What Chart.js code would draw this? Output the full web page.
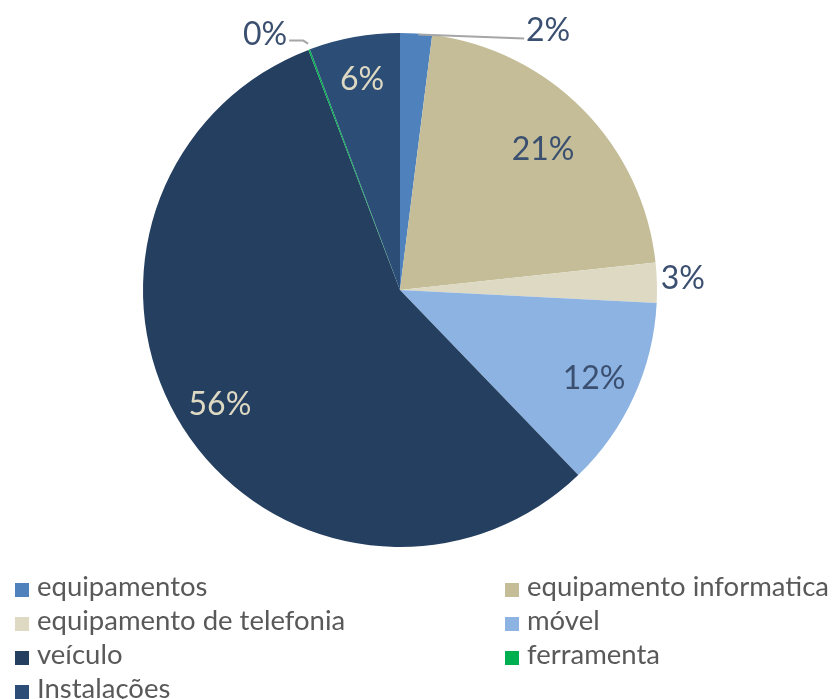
<!DOCTYPE html>
<html>
<head>
<meta charset="utf-8">
<script src="https://cdn.jsdelivr.net/npm/chart.js@4"></script>
<style>
  html, body { margin: 0; padding: 0; background: #fff; }
  #wrap { position: relative; width: 834px; height: 699px; }
  #pie { position: absolute; left: 0; top: 0; }
  #legend { position: absolute; left: 15px; top: 570px; width: 819px;
    font-family: Lato, "Open Sans", sans-serif; font-size: 27.5px; color: #595959; }
  .item { position: absolute; white-space: nowrap; line-height: 32px; }
  .box { display: inline-block; width: 14px; height: 14px; margin-right: 8px; vertical-align: -1px; }
</style>
</head>
<body>
<div id="wrap">
  <canvas id="pie" width="834" height="699"></canvas>
  <div id="legend"></div>
</div>
<script>
// categories, clockwise from 12 o'clock
const categories = ['equipamentos', 'equipamento informatica', 'equipamento de telefonia',
  'móvel', 'veículo', 'ferramenta', 'Instalações'];
// share of each category (%)
const shares = [2.0, 21.3, 2.5, 12.0, 56.4, 0.1, 5.7];
const colors = ['#4f81bd', '#c4bd97', '#ddd9c3', '#8db3e2', '#243f60', '#00b050', '#2c4d75'];

const darkText = '#3b5070';
const lightText = '#ddd9c3';
const labelFont = '32px Lato, "Open Sans", sans-serif';

// percent labels drawn by hand, Excel style
const pieLabels = {
  id: 'pieLabels',
  afterDatasetsDraw(chart) {
    const ctx = chart.ctx;
    const meta = chart.getDatasetMeta(0);
    const total = shares.reduce((a, b) => a + b, 0);
    ctx.save();
    ctx.font = labelFont;
    ctx.textBaseline = 'middle';
    ctx.textAlign = 'center';
    meta.data.forEach((arc, i) => {
      const txt = Math.round(shares[i] / total * 100) + '%';
      const mid = (arc.startAngle + arc.endAngle) / 2;
      const R = arc.outerRadius;
      const cx = arc.x, cy = arc.y;
      const ax = cx + Math.cos(mid) * R, ay = cy + Math.sin(mid) * R;
      if (i === 0) {
        // leader going right
        const tx = ax + 132, ty = ay - 3;
        ctx.strokeStyle = '#a6a6a6';
        ctx.lineWidth = 2;
        ctx.beginPath();
        ctx.moveTo(ax + 2, ay + 1);
        ctx.lineTo(tx - 24, ty + 8);
        ctx.stroke();
        ctx.fillStyle = darkText;
        ctx.fillText(txt, tx, ty);
      } else if (i === 5) {
        // leader going up and left
        ctx.strokeStyle = '#a6a6a6';
        ctx.lineWidth = 2;
        ctx.beginPath();
        ctx.moveTo(ax - 1, ay - 6);
        ctx.lineTo(ax - 6, ay - 9);
        ctx.lineTo(ax - 20, ay - 9);
        ctx.stroke();
        ctx.fillStyle = darkText;
        ctx.fillText(txt, ax - 44, ay - 15);
      } else if (i === 2) {
        const r = R + 26;
        ctx.fillStyle = darkText;
        ctx.fillText(txt, cx + Math.cos(mid) * r, cy + Math.sin(mid) * r - 3);
      } else {
        const r = R * (i === 1 ? 0.78 : 0.83);
        ctx.fillStyle = (i === 4 || i === 6) ? lightText : darkText;
        ctx.fillText(txt, cx + Math.cos(mid) * r, cy + Math.sin(mid) * r);
      }
    });
    ctx.restore();
  }
};

new Chart(document.getElementById('pie'), {
  type: 'pie',
  data: {
    labels: categories,
    datasets: [{
      data: shares,
      backgroundColor: colors,
      borderWidth: 0
    }]
  },
  options: {
    responsive: false,
    animation: false,
    layout: { padding: { top: 33, bottom: 152, left: 143, right: 177 } },
    plugins: { legend: { display: false }, tooltip: { enabled: false } }
  },
  plugins: [pieLabels]
});

// two-column legend
const legend = document.getElementById('legend');
categories.forEach((name, i) => {
  const d = document.createElement('div');
  d.className = 'item';
  d.style.left = (i % 2 ? 490 : 0) + 'px';
  d.style.top = (Math.floor(i / 2) * 34) + 'px';
  d.innerHTML = '<span class="box" style="background:' + colors[i] + '"></span>' + name;
  legend.appendChild(d);
});
</script>
</body>
</html>
